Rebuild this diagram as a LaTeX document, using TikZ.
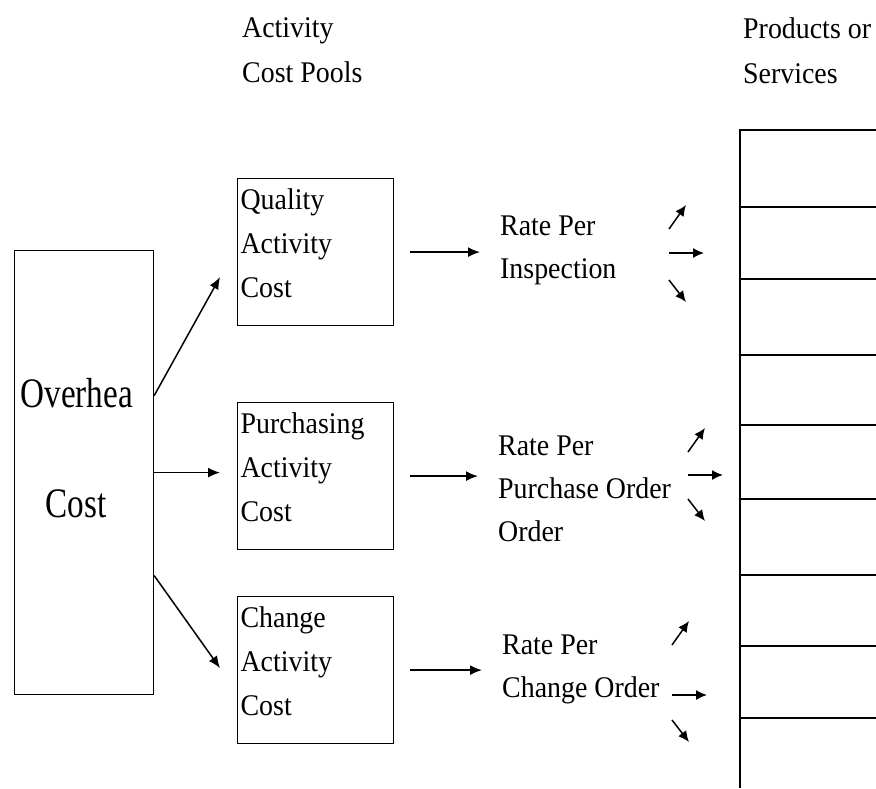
\documentclass[tikz,border=0pt]{standalone}
\usepackage{fontspec}
\setmainfont[FakeStretch=0.93]{Liberation Serif}
\newfontfamily\overheadfont[FakeStretch=0.79]{Liberation Serif}
\usetikzlibrary{arrows.meta,calc}

\begin{document}
\begin{tikzpicture}[x=1pt,y=-1pt,
    pool/.style={draw, line width=1.2pt, anchor=north west, inner xsep=3pt, inner ysep=0pt,
      text width=150pt, align=left, text height=31pt, text depth=116pt,
      font=\fontsize{30}{44}\selectfont},
    rate/.style={anchor=base west, inner sep=0pt, align=left, font=\fontsize{30}{43}\selectfont},
    head/.style={anchor=base west, inner sep=0pt, align=left, font=\fontsize{30}{45}\selectfont},
    link/.style={line width=1.5pt, -{Latex[length=12pt,width=10pt]}},
    fan/.style={line width=1.5pt, -{Latex[length=11pt,width=10pt]}}]
    \useasboundingbox (0,0) rectangle (876,788);

    % column headings (base = last line)
    \node[head] (pools) at (242,82) {Activity\\Cost Pools};
    \node[head] (products) at (743,83) {Products or\\Services};

    % overhead and the activity cost pools
    \node[draw, line width=1.2pt, anchor=north west, inner sep=0pt, text width=139pt, align=left,
      text height=157pt, text depth=287pt, font=\overheadfont\fontsize{42}{110}\selectfont]
      (overhead) at (14,250) {\hspace*{6pt}Overhea\\\hspace*{31pt}Cost};
    \node[pool] (quality) at (237,178) {Quality\\Activity\\Cost};
    \node[pool] (purchasing) at (237,402) {Purchasing\\Activity\\Cost};
    \node[pool] (change) at (237,596) {Change\\Activity\\Cost};

    % cost driver rates
    \node[rate] (rate1) at (500,278) {Rate Per\\Inspection};
    \node[rate] (rate2) at (498,541) {Rate Per\\Purchase Order\\Order};
    \node[rate] (rate3) at (502,697) {Rate Per\\Change Order};

    \draw[link] ([yshift=77pt]overhead.east) -- ($(quality.west)+(-17,25)$);
    \draw[link, shorten >=17pt] (overhead.east) -- (overhead.east -| purchasing.west);
    \draw[link] ([yshift=-103pt]overhead.east) -- ($(change.west)+(-17,-2)$);

    \draw[link, shorten <=16pt, shorten >=20pt] (quality.east) -- (quality.east -| rate1.west);
    \draw[link, shorten <=16pt, shorten >=20pt] (purchasing.east) -- (purchasing.east -| rate2.west);
    \draw[link, shorten <=16pt, shorten >=20pt] (change.east) -- (change.east -| rate3.west);

    % rates spread over the products
    \foreach \x/\y/\up/\dn in {669/253/24/27, 688/475/23/24, 672/695/50/25} {
        \draw[fan] (\x,\y-\up) -- ++(17,-24);
        \draw[fan] (\x,\y) -- ++(35,0);
        \draw[fan] (\x,\y+\dn) -- ++(17,22);
    }

    % products or services
    \draw[line width=1.2pt] (876,130) -| (740,788);
    \foreach \y in {207,279,355,425,499,575,646,718}
        \draw[line width=1.2pt] (740,\y) -- (876,\y);

\end{tikzpicture}
\end{document}
